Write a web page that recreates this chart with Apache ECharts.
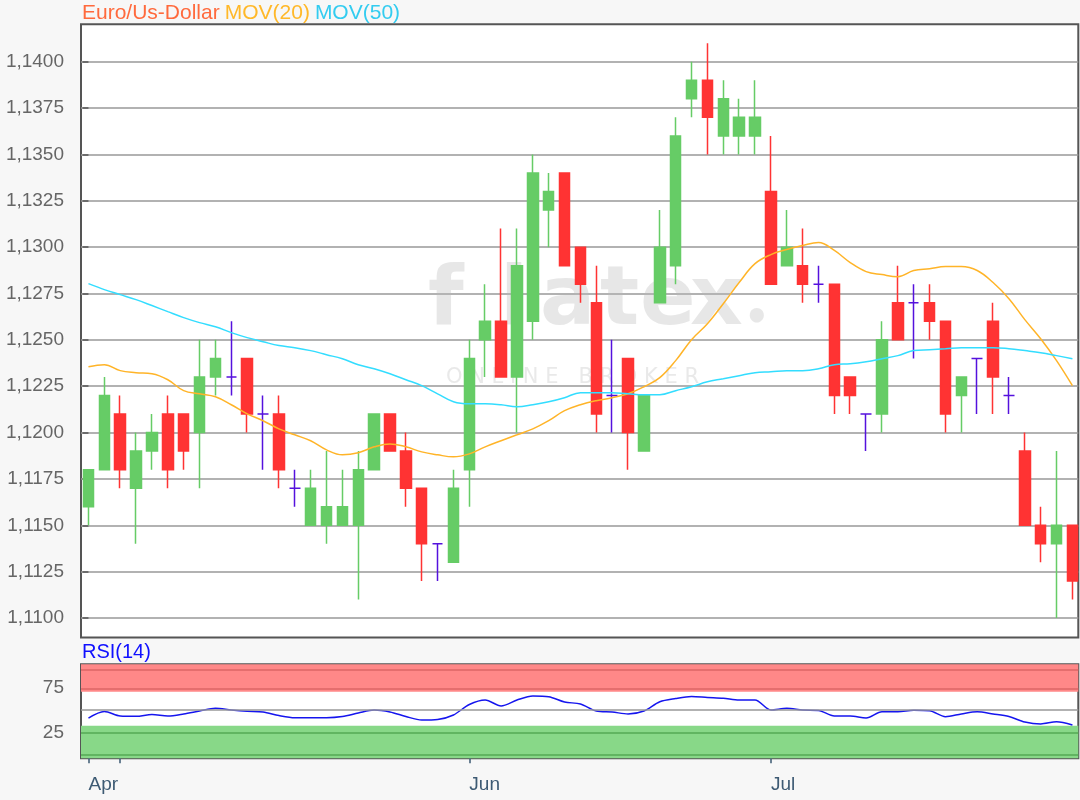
<!DOCTYPE html>
<html><head><meta charset="utf-8">
<script src="https://cdn.jsdelivr.net/npm/echarts@6/dist/echarts.min.js"></script>
<style>html,body{margin:0;padding:0;background:#f7f7f7}#c{width:1080px;height:800px}</style>
</head><body><div id="c"></div>
<script>
// ---- data ----
const open  = [1.116,1.118,1.121,1.117,1.119,1.121,1.121,1.120,1.123,1.123,1.124,1.121,1.121,1.117,1.115,1.115,1.115,1.115,1.118,1.121,1.119,1.117,1.114,1.113,1.118,1.125,1.126,1.123,1.126,1.132,1.134,1.130,1.127,1.122,1.124,1.119,1.127,1.129,1.138,1.139,1.136,1.136,1.136,1.133,1.129,1.129,1.128,1.128,1.123,1.121,1.121,1.127,1.127,1.127,1.126,1.122,1.124,1.126,1.122,1.119,1.115,1.114,1.115];
const close = [1.118,1.122,1.118,1.119,1.120,1.118,1.119,1.123,1.124,1.123,1.121,1.121,1.118,1.117,1.117,1.116,1.116,1.118,1.121,1.119,1.117,1.114,1.114,1.117,1.124,1.126,1.123,1.129,1.134,1.133,1.129,1.128,1.121,1.122,1.120,1.122,1.130,1.136,1.139,1.137,1.138,1.137,1.137,1.128,1.130,1.128,1.128,1.122,1.122,1.121,1.125,1.125,1.127,1.126,1.121,1.123,1.124,1.123,1.122,1.115,1.114,1.115,1.112];
const low   = [1.115,1.118,1.117,1.114,1.118,1.117,1.118,1.117,1.122,1.122,1.120,1.118,1.117,1.116,1.115,1.114,1.115,1.111,1.118,1.119,1.116,1.112,1.112,1.113,1.116,1.123,1.123,1.120,1.125,1.130,1.129,1.127,1.120,1.120,1.118,1.119,1.127,1.128,1.137,1.135,1.135,1.135,1.135,1.128,1.129,1.127,1.127,1.121,1.121,1.119,1.120,1.125,1.124,1.125,1.120,1.120,1.121,1.121,1.121,1.115,1.113,1.110,1.111];
const high  = [1.118,1.123,1.122,1.120,1.121,1.122,1.121,1.125,1.125,1.126,1.124,1.122,1.122,1.118,1.118,1.119,1.118,1.119,1.121,1.121,1.120,1.117,1.114,1.118,1.125,1.128,1.131,1.131,1.135,1.134,1.134,1.130,1.129,1.125,1.124,1.122,1.132,1.137,1.140,1.141,1.139,1.138,1.139,1.136,1.132,1.131,1.129,1.128,1.123,1.121,1.126,1.129,1.128,1.128,1.126,1.123,1.124,1.127,1.123,1.120,1.116,1.119,1.115];
const ma20  = [1.12355,1.12366,1.12334,1.12323,1.12317,1.12285,1.12226,1.12209,1.12193,1.12150,1.12101,1.12064,1.12020,1.11988,1.11956,1.11907,1.11880,1.11891,1.11923,1.11939,1.11923,1.11896,1.11880,1.11869,1.11885,1.11923,1.11956,1.11988,1.12020,1.12064,1.12118,1.12150,1.12172,1.12188,1.12209,1.12247,1.12296,1.12388,1.12501,1.12587,1.12695,1.12809,1.12911,1.12960,1.12987,1.13009,1.13025,1.12982,1.12917,1.12868,1.12852,1.12841,1.12874,1.12884,1.12895,1.12895,1.12874,1.12809,1.12722,1.12609,1.12506,1.12388,1.12253];
const ma50  = [1.12803,1.12771,1.12744,1.12717,1.12685,1.12652,1.12620,1.12593,1.12571,1.12539,1.12512,1.12490,1.12469,1.12458,1.12442,1.12420,1.12398,1.12366,1.12344,1.12317,1.12285,1.12253,1.12209,1.12166,1.12155,1.12155,1.12150,1.12139,1.12150,1.12166,1.12188,1.12215,1.12215,1.12215,1.12209,1.12204,1.12204,1.12226,1.12247,1.12274,1.12290,1.12307,1.12323,1.12328,1.12334,1.12334,1.12344,1.12366,1.12371,1.12382,1.12398,1.12415,1.12442,1.12447,1.12452,1.12458,1.12458,1.12458,1.12452,1.12442,1.12431,1.12415,1.12398];
const rsi   = [41.3,48.6,43.6,43.2,45.2,43.6,45.8,49.1,52.1,50.2,48.8,48.0,44.1,41.7,41.7,41.7,43.0,46.9,50.2,48.0,43.0,39.1,39.7,44.7,56.3,61.3,54.7,61.3,65.8,65.0,59.1,56.9,49.1,48.0,45.8,49.1,59.4,63.0,65.2,64.1,63.2,61.3,61.3,50.2,52.1,50.2,49.7,43.6,43.6,41.3,48.3,48.3,50.0,49.4,42.8,45.8,48.2,45.8,43.0,36.9,34.7,37.2,33.6];
const priceTicks = [1.11,1.1125,1.115,1.1175,1.12,1.1225,1.125,1.1275,1.13,1.1325,1.135,1.1375,1.14];
const rsiTicks = [25,75];
const monthTickIndex = [0,2,24,43];
const monthLabelIndex = [0,24,43];
const monthLabels = ['Apr','Jun','Jul'];

// ---- styling ----
const FONT = "'Liberation Sans', Arial, sans-serif";
const UP = '#66cc66', DOWN = '#ff3333', DOJI = '#5511dd';
const xMin = -0.47, xMax = 62.37;
const WM = 'rgba(185,185,185,0.34)';

const candleData = open.map((o, i) => {
  const item = { value: [i, o, close[i], low[i], high[i]] };
  if (o === close[i]) item.itemStyle = { color: DOJI, color0: DOJI, borderColor: DOJI, borderColor0: DOJI };
  return item;
});
const ma20Data = ma20.map((v, i) => [i, v]);
const ma50Data = ma50.map((v, i) => [i, v]);
const rsiData = rsi.map((v, i) => [i, v]);

const chart = echarts.init(document.getElementById('c'), null, { renderer: 'canvas' });
const fmt = v => v.toFixed(4).replace('.', ',');

const wmLetter = (ch, x) => ({ type: 'text', z: 1, silent: true, left: x, top: 262,
  style: { text: ch, font: "bold 82px 'DejaVu Sans'", fill: WM } });

chart.setOption({
  backgroundColor: '#f7f7f7',
  animation: false,
  textStyle: { fontFamily: FONT },
  title: [
    { text: '{a|Euro/Us-Dollar} {b|MOV(20)} {c|MOV(50)}', left: 82, top: 3, padding: 0,
      textStyle: { rich: {
        a: { color: '#ff6a3d', fontSize: 21, fontWeight: 'normal', fontFamily: FONT },
        b: { color: '#ffb829', fontSize: 21, fontWeight: 'normal', fontFamily: FONT },
        c: { color: '#33ccf0', fontSize: 21, fontWeight: 'normal', fontFamily: FONT } } } },
    { text: 'RSI(14)', left: 82, top: 642, padding: 0,
      textStyle: { color: '#1010ff', fontSize: 20, fontWeight: 'normal', fontFamily: FONT } }
  ],
  graphic: [
    wmLetter('f', 428), wmLetter('l', 500), wmLetter('a', 540), wmLetter('t', 600),
    wmLetter('e', 640), wmLetter('x', 690),
    { type: 'text', z: 1, silent: true, left: 744, top: 300,
      style: { text: '•', font: "bold 40px 'DejaVu Sans'", fill: WM } },
    { type: 'text', z: 1, silent: true, left: 446, top: 367,
      style: { text: 'O N L I N E   B R O K E R', font: "21px 'DejaVu Sans'", fill: 'rgba(200,200,200,0.4)' } }
  ],
  grid: [
    { left: 81, top: 24.3, width: 997.3, height: 613.2, show: true, backgroundColor: '#ffffff', borderColor: '#555', borderWidth: 2 },
    { left: 81, top: 664.3, width: 997.3, height: 94, show: true, backgroundColor: '#ffffff', borderColor: '#555', borderWidth: 2 }
  ],
  xAxis: [
    { type: 'value', gridIndex: 0, min: xMin, max: xMax,
      axisLine: { show: false }, axisTick: { show: false }, axisLabel: { show: false }, splitLine: { show: false } },
    { type: 'value', gridIndex: 1, min: xMin, max: xMax,
      axisLine: { show: false }, splitLine: { show: false },
      axisTick: { show: true, length: 8, customValues: monthTickIndex, lineStyle: { color: '#3d5a73', width: 1.5 } },
      axisLabel: { show: true, customValues: monthLabelIndex, margin: 17, align: 'left', color: '#3d5a73', fontSize: 19, fontFamily: FONT,
        formatter: v => monthLabels[monthLabelIndex.indexOf(Math.round(v))] || '' } }
  ],
  yAxis: [
    { type: 'value', gridIndex: 0, min: 1.108948, max: 1.142018,
      axisLine: { show: false },
      axisTick: { show: true, length: 6, customValues: priceTicks, lineStyle: { color: '#555', width: 1.5 } },
      axisLabel: { customValues: priceTicks, formatter: fmt, color: '#666', fontSize: 19, margin: 17, fontFamily: FONT },
      splitLine: { show: true, lineStyle: { color: '#999', width: 1.5 } } },
    { type: 'value', gridIndex: 1, min: -3.44, max: 101,
      axisLine: { show: false },
      axisTick: { show: true, length: 6, customValues: rsiTicks, lineStyle: { color: '#555', width: 1.5 } },
      axisLabel: { customValues: rsiTicks, color: '#666', fontSize: 19, margin: 17, fontFamily: FONT },
      splitLine: { show: false } }
  ],
  series: [
    { type: 'candlestick', xAxisIndex: 0, yAxisIndex: 0, data: candleData, barWidth: 11,
      encode: { x: 0, y: [1, 2, 3, 4] },
      itemStyle: { color: UP, color0: DOWN, borderColor: UP, borderColor0: DOWN, borderWidth: 1.5 } },
    { type: 'line', name: 'MOV(20)', xAxisIndex: 0, yAxisIndex: 0, data: ma20Data, showSymbol: false, smooth: 0.4,
      lineStyle: { color: '#ffb428', width: 1.5 }, z: 3 },
    { type: 'line', name: 'MOV(50)', xAxisIndex: 0, yAxisIndex: 0, data: ma50Data, showSymbol: false, smooth: 0.4,
      lineStyle: { color: '#33ddff', width: 1.5 }, z: 3 },
    { type: 'line', name: 'RSI(14)', xAxisIndex: 1, yAxisIndex: 1, data: rsiData, showSymbol: false, smooth: 0.3,
      lineStyle: { color: '#1515ee', width: 1.5 }, z: 4,
      markArea: { silent: true, data: [
        [{ yAxis: 70.6, itemStyle: { color: '#ff8888' } }, { yAxis: 101 }],
        [{ yAxis: -3.44, itemStyle: { color: '#88d888' } }, { yAxis: 32.8 }]
      ] },
      markLine: { silent: true, symbol: 'none', label: { show: false }, data: [
        { yAxis: 50, lineStyle: { color: '#999', type: 'solid', width: 1.5 } },
        { yAxis: 95.4, lineStyle: { color: '#d66', type: 'solid', width: 1.5 } },
        { yAxis: 73.3, lineStyle: { color: '#d66', type: 'solid', width: 1.5 } },
        { yAxis: 25, lineStyle: { color: '#5a5', type: 'solid', width: 1.5 } },
        { yAxis: 1, lineStyle: { color: '#5a5', type: 'solid', width: 1.5 } }
      ] } }
  ]
});
</script></body></html>
